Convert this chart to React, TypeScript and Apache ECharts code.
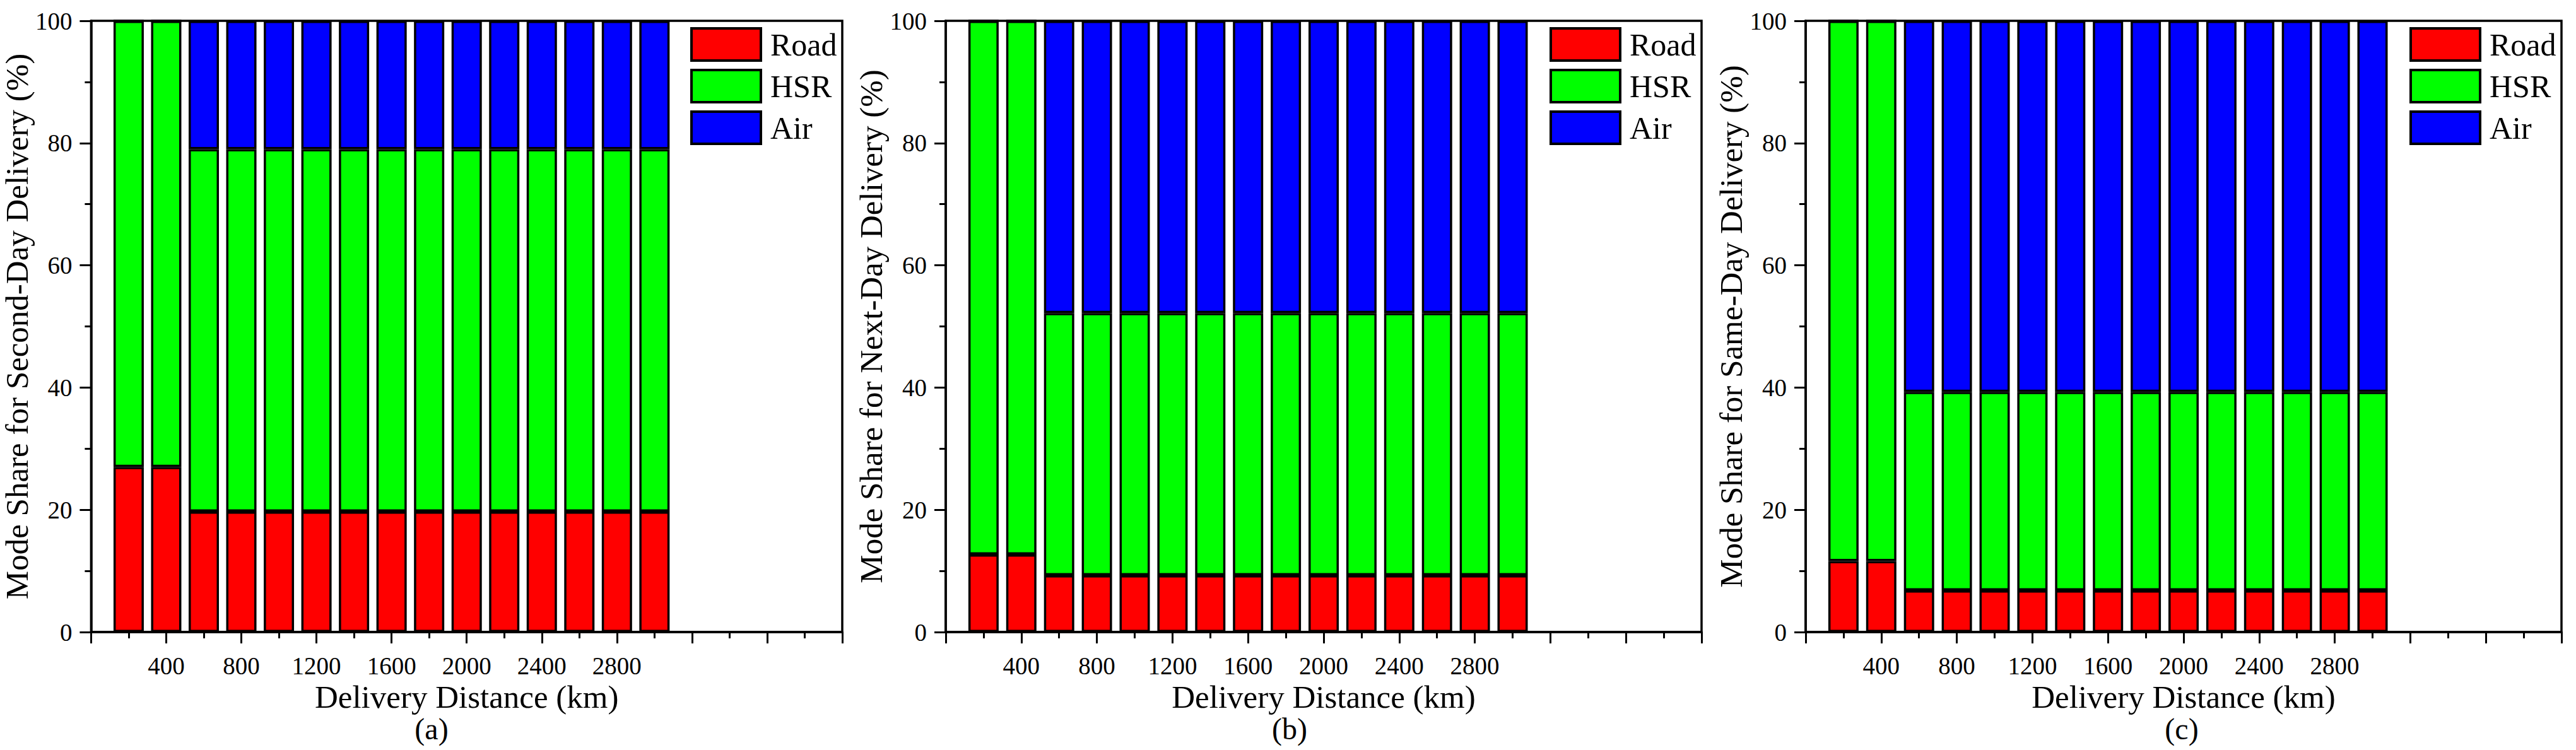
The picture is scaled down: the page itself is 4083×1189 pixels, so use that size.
import React, { useEffect, useRef } from "react";
import * as echarts from "echarts";

const distances = [200, 400, 600, 800, 1000, 1200, 1400, 1600, 1800, 2000, 2200, 2400, 2600, 2800, 3000];
const xTickLabels = ["400", "800", "1200", "1600", "2000", "2400", "2800"];
const yTickLabels = ["0", "20", "40", "60", "80", "100"];
const modes = ["Road", "HSR", "Air"];

// (a) Second-Day
const roadA = [27.0, 27.0, 19.7, 19.7, 19.7, 19.7, 19.7, 19.7, 19.7, 19.7, 19.7, 19.7, 19.7, 19.7, 19.7];
const hsrA = [73.0, 73.0, 59.3, 59.3, 59.3, 59.3, 59.3, 59.3, 59.3, 59.3, 59.3, 59.3, 59.3, 59.3, 59.3];
const airA = [0, 0, 21.0, 21.0, 21.0, 21.0, 21.0, 21.0, 21.0, 21.0, 21.0, 21.0, 21.0, 21.0, 21.0];
// (b) Next-Day
const roadB = [12.7, 12.7, 9.3, 9.3, 9.3, 9.3, 9.3, 9.3, 9.3, 9.3, 9.3, 9.3, 9.3, 9.3, 9.3];
const hsrB = [87.3, 87.3, 42.9, 42.9, 42.9, 42.9, 42.9, 42.9, 42.9, 42.9, 42.9, 42.9, 42.9, 42.9, 42.9];
const airB = [0, 0, 47.8, 47.8, 47.8, 47.8, 47.8, 47.8, 47.8, 47.8, 47.8, 47.8, 47.8, 47.8, 47.8];
// (c) Same-Day
const roadC = [11.6, 11.6, 6.8, 6.8, 6.8, 6.8, 6.8, 6.8, 6.8, 6.8, 6.8, 6.8, 6.8, 6.8, 6.8];
const hsrC = [88.4, 88.4, 32.5, 32.5, 32.5, 32.5, 32.5, 32.5, 32.5, 32.5, 32.5, 32.5, 32.5, 32.5, 32.5];
const airC = [0, 0, 60.7, 60.7, 60.7, 60.7, 60.7, 60.7, 60.7, 60.7, 60.7, 60.7, 60.7, 60.7, 60.7];

const yTitles = [
  "Mode Share for Second-Day Delivery (%)",
  "Mode Share for Next-Day Delivery (%)",
  "Mode Share for Same-Day Delivery (%)",
];
const panelLabels = ["(a)", "(b)", "(c)"];
const panelData = [
  [roadA, hsrA, airA],
  [roadB, hsrB, airB],
  [roadC, hsrC, airC],
];

const COLORS = ["#FF0000", "#00FF00", "#0000FF"];
const FONT = "'Liberation Serif', 'Times New Roman', serif";

const GRID_LEFT = [137, 1499, 2862];
const GRID_W = 1198;
const GRID_TOP = 33;
const GRID_H = 969;
const LABEL_X = [684, 2044, 3458];

export default function App() {
  const ref = useRef<HTMLDivElement>(null);

  useEffect(() => {
    if (!ref.current) return;
    const chart = echarts.init(ref.current, undefined, { renderer: "svg" });

    const grids: any[] = [];
    const xAxes: any[] = [];
    const yAxes: any[] = [];
    const legends: any[] = [];
    const series: any[] = [];
    const graphics: any[] = [];

    for (let p = 0; p < 3; p++) {
      grids.push({
        left: GRID_LEFT[p],
        top: GRID_TOP,
        width: GRID_W,
        height: GRID_H,
        show: true,
        borderColor: "#000",
        borderWidth: 3.5,
        backgroundColor: "transparent",
        containLabel: false,
      });
      xAxes.push({
        type: "value",
        gridIndex: p,
        min: 0,
        max: 4000,
        interval: 400,
        name: "Delivery Distance (km)",
        nameLocation: "middle",
        nameGap: 70,
        nameTextStyle: { fontFamily: FONT, fontSize: 51, color: "#000" },
        axisLine: { show: true, onZero: false, lineStyle: { color: "#000", width: 3.5 } },
        axisTick: { show: true, inside: false, length: 18, lineStyle: { color: "#000", width: 3 } },
        minorTick: { show: true, splitNumber: 2, length: 10, lineStyle: { color: "#000", width: 3 } },
        splitLine: { show: false },
        minorSplitLine: { show: false },
        axisLabel: {
          show: true,
          margin: 34,
          fontFamily: FONT,
          fontSize: 39,
          color: "#000",
          formatter: (v: number) => (xTickLabels.includes(String(v)) ? String(v) : ""),
        },
      });
      yAxes.push({
        type: "value",
        gridIndex: p,
        min: 0,
        max: 100,
        interval: 20,
        name: yTitles[p],
        nameLocation: "middle",
        nameGap: 76,
        nameTextStyle: { fontFamily: FONT, fontSize: 51, color: "#000" },
        axisLine: { show: true, onZero: false, lineStyle: { color: "#000", width: 3.5 } },
        axisTick: { show: true, inside: false, length: 18, lineStyle: { color: "#000", width: 3 } },
        minorTick: { show: true, splitNumber: 2, length: 10, lineStyle: { color: "#000", width: 3 } },
        splitLine: { show: false },
        minorSplitLine: { show: false },
        axisLabel: {
          show: true,
          margin: 30,
          fontFamily: FONT,
          fontSize: 39,
          color: "#000",
          formatter: (v: number) => (yTickLabels.includes(String(v)) ? String(v) : ""),
        },
      });
      legends.push({
        show: true,
        orient: "vertical",
        left: GRID_LEFT[p] + 957,
        top: 43,
        padding: 0,
        itemWidth: 110,
        itemHeight: 51,
        itemGap: 11,
        icon: "rect",
        data: modes,
        selectedMode: false,
        itemStyle: { borderColor: "#000", borderWidth: 4 },
        textStyle: { fontFamily: FONT, fontSize: 50, color: "#000", padding: [0, 0, 0, 10] },
      });
      for (let m = 0; m < 3; m++) {
        series.push({
          type: "bar",
          name: modes[m],
          xAxisIndex: p,
          yAxisIndex: p,
          stack: "panel" + p,
          barWidth: 48,
          // value first so that the stacked dimension is the y (share) dimension
          dimensions: ["share", "distance"],
          encode: { x: 1, y: 0 },
          data: distances.map((d, i) => [panelData[p][m][i], d]),
          itemStyle: { color: COLORS[m], borderColor: "#000", borderWidth: 3.5 },
          emphasis: { disabled: true },
        });
      }
      graphics.push({
        type: "text",
        x: LABEL_X[p],
        y: 1155,
        style: {
          text: panelLabels[p],
          fontFamily: FONT,
          fontSize: 48,
          fill: "#000",
          textAlign: "center",
          textVerticalAlign: "middle",
          align: "center",
          verticalAlign: "middle",
        },
      });
    }

    chart.setOption({
      animation: false,
      backgroundColor: "#fff",
      grid: grids,
      xAxis: xAxes,
      yAxis: yAxes,
      legend: legends,
      series,
      graphic: graphics,
    });

    return () => chart.dispose();
  }, []);

  return (
    <div
      ref={ref}
      style={{ position: "absolute", left: 0, top: 0, width: 4083, height: 1189, background: "#fff" }}
    />
  );
}
